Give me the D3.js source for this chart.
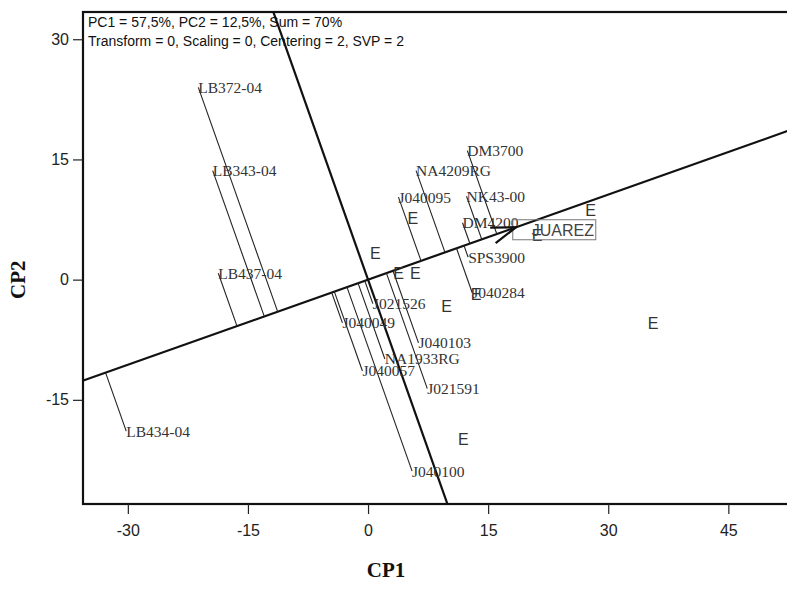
<!DOCTYPE html>
<html>
<head>
<meta charset="utf-8">
<script src="https://cdn.jsdelivr.net/npm/d3@7"></script>
<style>
  body { margin: 0; background: #fff; }
</style>
</head>
<body>
<script>
/* global d3 */

// genotypes (label start = point)
let genotypeNames = ['LB372-04', 'LB343-04', 'LB437-04', 'LB434-04', 'DM3700',
  'NA4209RG', 'J040095', 'NK43-00', 'DM4200', 'SPS3900', 'J040284', 'J021526',
  'J040049', 'J040103', 'NA1933RG', 'J040057', 'J021591', 'J040100']
let genotypePC1 = [-21.2, -19.4, -18.7, -30.2, 12.4, 6.0, 3.8, 12.3, 11.8,
  12.5, 13.0, 0.6, -3.2, 6.3, 2.1, -0.7, 7.4, 5.5]
let genotypePC2 = [24.0, 13.6, 0.8, -18.9, 16.1, 13.6, 10.3, 10.4, 7.1,
  2.8, -1.6, -3.0, -5.4, -7.9, -9.9, -11.4, -13.6, -23.9]

// environments, all labelled "E"
let envPC1 = [0.9, 5.6, 3.8, 5.9, 9.8, 13.5, 21.1, 27.8, 35.6, 11.9]
let envPC2 = [3.3, 7.6, 0.8, 0.8, -3.3, -1.9, 5.5, 8.6, -5.5, -19.9]

let checkName = 'JUAREZ'
let checkPoint = [18.2, 6.1]
let meanEnv = [18.5, 6.55]

let xTicks = [-30, -15, 0, 15, 30, 45]
let yTicks = [-15, 0, 15, 30]
let headerLines = ['PC1 = 57,5%, PC2 = 12,5%, Sum = 70%',
  'Transform = 0, Scaling = 0, Centering = 2, SVP = 2']

let W = 787
let H = 591
let frame = {left: 83, top: 12, right: 790, bottom: 504}

let svg = d3.select('body').append('svg')
  .attr('width', W)
  .attr('height', H)
  .style('background', '#fff')

let x = d3.scaleLinear().domain([-35.6, 52.7]).range([frame.left, frame.right])
let y = d3.scaleLinear().domain([-28, 33.4]).range([frame.bottom, frame.top])

svg.append('clipPath').attr('id', 'plot-clip')
  .append('rect')
  .attr('x', frame.left).attr('y', frame.top)
  .attr('width', frame.right - frame.left)
  .attr('height', frame.bottom - frame.top)

let plot = svg.append('g').attr('clip-path', 'url(#plot-clip)')

// average-environment axis through origin and its perpendicular
let len = Math.hypot(meanEnv[0], meanEnv[1])
let u = [meanEnv[0] / len, meanEnv[1] / len]
let far = 200
plot.append('line')
  .attr('x1', x(-u[0] * far)).attr('y1', y(-u[1] * far))
  .attr('x2', x(u[0] * far)).attr('y2', y(u[1] * far))
  .attr('stroke', '#111').attr('stroke-width', 2.2)
plot.append('line')
  .attr('x1', x(u[1] * far)).attr('y1', y(-u[0] * far))
  .attr('x2', x(-u[1] * far)).attr('y2', y(u[0] * far))
  .attr('stroke', '#111').attr('stroke-width', 2.2)

// projection of each genotype onto the axis
let genotypes = genotypeNames.map((name, i) => {
  let gx = genotypePC1[i]
  let gy = genotypePC2[i]
  let t = gx * u[0] + gy * u[1]
  return {name, gx, gy, fx: t * u[0], fy: t * u[1]}
})

plot.append('g').selectAll('line').data(genotypes).enter()
  .append('line')
  .attr('x1', d => x(d.gx)).attr('y1', d => y(d.gy))
  .attr('x2', d => x(d.fx)).attr('y2', d => y(d.fy))
  .attr('stroke', '#222').attr('stroke-width', 1.1)

plot.append('g').selectAll('text').data(genotypes).enter()
  .append('text')
  .attr('x', d => x(d.gx))
  .attr('y', d => y(d.gy))
  .attr('dy', '0.35em')
  .attr('font-family', 'Liberation Serif, Times New Roman, serif')
  .attr('font-size', 15.5)
  .attr('fill', '#333')
  .text(d => d.name)

plot.append('g').selectAll('text').data(envPC1).enter()
  .append('text')
  .attr('x', d => x(d))
  .attr('y', (d, i) => y(envPC2[i]))
  .attr('dy', '0.35em')
  .attr('text-anchor', 'middle')
  .attr('font-family', 'Liberation Sans, Arial, sans-serif')
  .attr('font-size', 16)
  .attr('fill', '#333')
  .text('E')

// boxed check label
let cx = x(checkPoint[0])
let cy = y(checkPoint[1])
plot.append('rect')
  .attr('x', cx - 1).attr('y', cy - 11)
  .attr('width', 83).attr('height', 20)
  .attr('fill', 'none').attr('stroke', '#777').attr('stroke-width', 1)
plot.append('text')
  .attr('x', cx + 18).attr('y', cy)
  .attr('dy', '0.35em')
  .attr('font-family', 'Liberation Sans, Arial, sans-serif')
  .attr('font-size', 16)
  .attr('fill', '#444')
  .text(checkName)

// arrow at the average environment
let tip = [x(meanEnv[0]), y(meanEnv[1])]
let ang = Math.atan2(y(meanEnv[1]) - y(0), x(meanEnv[0]) - x(0))
let barb = 26
let spread = 0.32
plot.append('path')
  .attr('d', `M${tip[0] - barb * Math.cos(ang - spread)},${tip[1] - barb * Math.sin(ang - spread)}` +
    `L${tip[0]},${tip[1]}` +
    `L${tip[0] - barb * Math.cos(ang + spread)},${tip[1] - barb * Math.sin(ang + spread)}`)
  .attr('fill', 'none').attr('stroke', '#111').attr('stroke-width', 2.2)

// frame
svg.append('rect')
  .attr('x', frame.left).attr('y', frame.top)
  .attr('width', frame.right - frame.left)
  .attr('height', frame.bottom - frame.top)
  .attr('fill', 'none').attr('stroke', '#111').attr('stroke-width', 2.2)

// axes
let xAxis = svg.append('g')
  .attr('transform', `translate(0,${frame.bottom})`)
  .call(d3.axisBottom(x).tickValues(xTicks).tickSize(10).tickPadding(11)
    .tickFormat(d3.format('d')))
let yAxis = svg.append('g')
  .attr('transform', `translate(${frame.left},0)`)
  .call(d3.axisLeft(y).tickValues(yTicks).tickSize(10).tickPadding(4)
    .tickFormat(d3.format('d')))
for (let ax of [xAxis, yAxis]) {
  ax.select('.domain').remove()
  ax.selectAll('line').attr('stroke', '#222').attr('stroke-width', 1.2)
  ax.selectAll('text')
    .attr('font-family', 'Liberation Sans, Arial, sans-serif')
    .attr('font-size', 16)
    .attr('fill', '#222')
}
yAxis.selectAll('text').text(d => d < 0 ? '-' + Math.abs(d) : d)
xAxis.selectAll('text').text(d => d < 0 ? '-' + Math.abs(d) : d)

// header
svg.append('g').selectAll('text').data(headerLines).enter()
  .append('text')
  .attr('x', frame.left + 5)
  .attr('y', (d, i) => 27 + i * 18.5)
  .attr('font-family', 'Liberation Sans, Arial, sans-serif')
  .attr('font-size', 14)
  .attr('fill', '#111')
  .text(d => d)

// axis titles
svg.append('text')
  .attr('x', 386).attr('y', 577)
  .attr('text-anchor', 'middle')
  .attr('font-family', 'Liberation Serif, Times New Roman, serif')
  .attr('font-weight', 'bold')
  .attr('font-size', 21)
  .attr('fill', '#111')
  .text('CP1')
svg.append('text')
  .attr('transform', `translate(25,${y(0)}) rotate(-90)`)
  .attr('text-anchor', 'middle')
  .attr('font-family', 'Liberation Serif, Times New Roman, serif')
  .attr('font-weight', 'bold')
  .attr('font-size', 21)
  .attr('fill', '#111')
  .text('CP2')
</script>
</body>
</html>
